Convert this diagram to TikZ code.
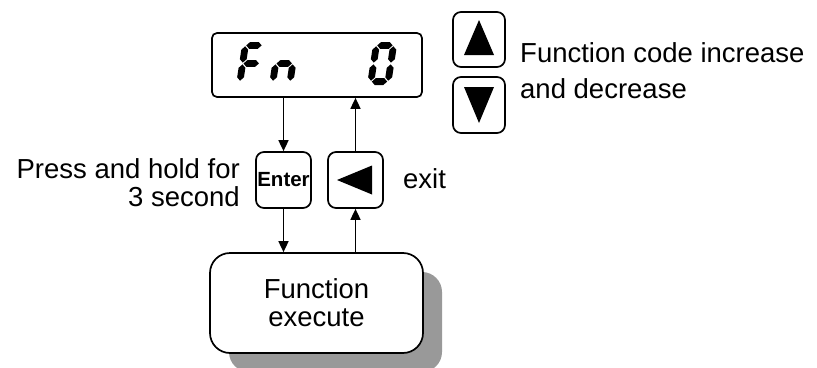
\documentclass[tikz,border=0pt]{standalone}
\usepackage{fontspec}
\setmainfont{Liberation Sans}
\usetikzlibrary{arrows.meta,positioning,calc,shadows}

% one segment of the display, horizontal or vertical
\newcommand{\segh}[3]{\fill (#1,#3)--({#1+3.4},{#3-3.4})--({#2-3.4},{#3-3.4})--(#2,#3)--({#2-3.4},{#3+3.4})--({#1+3.4},{#3+3.4})--cycle;}
\newcommand{\segv}[3]{\fill (#1,#2)--({#1+3.4},{#2+3.4})--({#1+3.4},{#3-3.4})--(#1,#3)--({#1-3.4},{#3-3.4})--({#1-3.4},{#2+3.4})--cycle;}
\newcommand{\lcda}{\segh{4.3}{19.7}{-39.6}}
\newcommand{\lcdb}{\segv{20.6}{-38.7}{-22.4}}
\newcommand{\lcdc}{\segv{20.6}{-20.6}{-4.3}}
\newcommand{\lcdd}{\segh{4.3}{19.7}{-3.4}}
\newcommand{\lcde}{\segv{3.4}{-20.6}{-4.3}}
\newcommand{\lcdf}{\segv{3.4}{-38.7}{-22.4}}
\newcommand{\lcdg}{\segh{4.3}{19.7}{-21.5}}

\begin{document}
\begin{tikzpicture}[x=1pt,y=-1pt,
  btn/.style={draw,line width=1.7pt,rounded corners=8pt,minimum width=55pt,minimum height=56pt,inner sep=0pt},
  link/.style={line width=1.6pt,-{Triangle[length=11pt,width=10pt]}},
  txt/.style={font=\fontsize{27.5}{28}\selectfont,inner sep=0pt}]
 \useasboundingbox (0,0) rectangle (817,367);
 % display
 \node[draw,line width=1.7pt,rounded corners=5pt,minimum width=210pt,minimum height=64pt] (disp) at (317,65) {};
 \foreach \dx/\segs in {236/{a,f,g,e},269/{g,e,c},367/{a,b,c,d,e,f}}
   {\begin{scope}[shift={(\dx,85)},xslant=0.15]
     \foreach \s in \segs {\csname lcd\s\endcsname}
    \end{scope}}
 % keys
 \node[btn] (enter) at (283.5,180) {\fontsize{20.5}{20.5}\selectfont\bfseries Enter};
 \node[btn] (back) at (355.5,180) {};
 \node[btn,minimum width=52pt,minimum height=55pt] (up) at (479,39.5) {};
 \node[btn,minimum width=52pt,minimum height=56pt] (down) at (479,105) {};
 \fill (back.center) ++(-18.5,0) -- ++(35,-14.5) -- ++(0,29) -- cycle;
 \fill (up.center) ++(0,-19.5) -- ++(15,35) -- ++(-30,0) -- cycle;
 \fill (down.center) ++(0,18) -- ++(15,-36) -- ++(-30,0) -- cycle;
 % function box
 \node[draw,line width=1.7pt,rounded corners=20pt,fill=white,minimum width=213pt,minimum height=100pt,align=center,txt,
   drop shadow={shadow xshift=19pt,shadow yshift=-19pt,fill=black!40,opacity=1}] (func) at (316.5,303) {Function\\execute};
 % arrows
 \draw[link] (disp.south -| enter) -- (enter.north);
 \draw[link] (enter.south) -- (enter.south |- func.north);
 \draw[link] (back.south |- func.north) -- (back.south);
 \draw[link] (back.north) -- (back.north |- disp.south);
 % labels
 \node[txt,align=left,anchor=base west,font=\fontsize{27.5}{36}\selectfont] (updown) at (520,98) {Function code increase\\and decrease};
 \node[txt,align=right,anchor=base east] (hold) at (240,206) {Press and hold for\\3 second};
 \node[txt,anchor=base west] (exit) at (403,188) {exit};
\end{tikzpicture}
\end{document}
